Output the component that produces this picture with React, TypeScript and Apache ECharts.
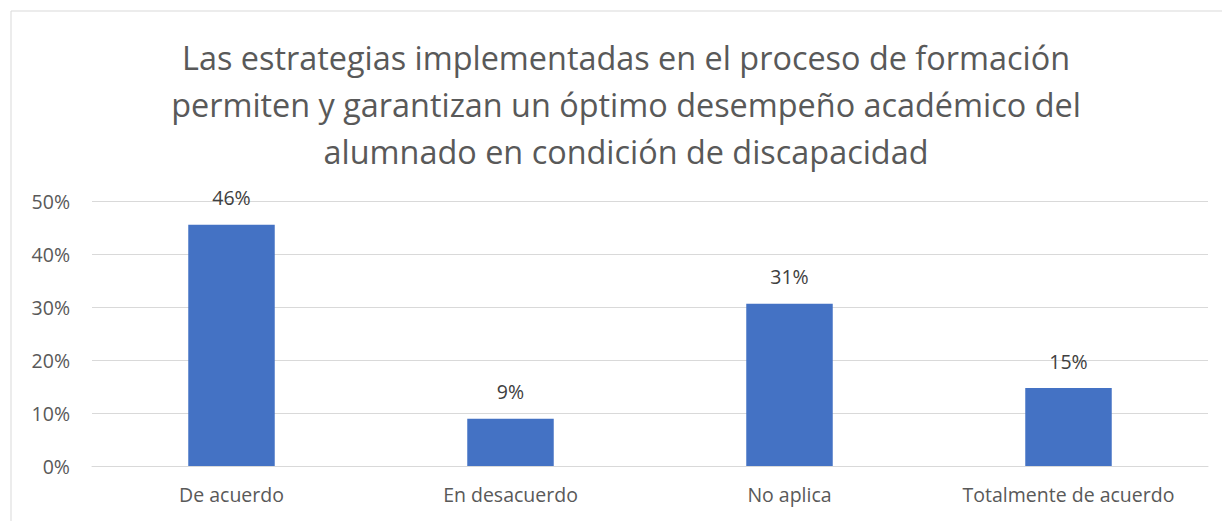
import React, { useEffect, useRef } from "react";
import * as echarts from "echarts";

const categories = ["De acuerdo", "En desacuerdo", "No aplica", "Totalmente de acuerdo"];
const values = [45.5, 8.9, 30.6, 14.7];
const titleLines = [
  "Las estrategias implementadas en el proceso de formación",
  "permiten y garantizan un óptimo desempeño académico del",
  "alumnado en condición de discapacidad",
];

export default function App() {
  const ref = useRef<HTMLDivElement>(null);
  useEffect(() => {
    const chart = echarts.init(ref.current!, undefined, { renderer: "svg" });
    const font = "'Open Sans', 'Noto Sans', sans-serif";
    chart.setOption({
      animation: false,
      backgroundColor: "#ffffff",
      graphic: [
        {
          type: "rect",
          shape: { x: 11, y: 11, width: 1300, height: 600 },
          style: { fill: "none", stroke: "#d9d9d9", lineWidth: 1 },
          silent: true,
        },
      ],
      title: {
        text: titleLines.join("\n"),
        left: 621,
        textAlign: "center",
        top: 28,
        textStyle: {
          color: "#595959",
          fontFamily: font,
          fontWeight: "normal",
          fontSize: 32.4,
          lineHeight: 47,
        },
      },
      grid: { left: 92, right: 14, top: 201, bottom: 55, containLabel: false },
      xAxis: {
        type: "category",
        data: categories,
        axisLine: { show: true, lineStyle: { color: "#d9d9d9", width: 1 } },
        axisTick: { show: false },
        axisLabel: { color: "#595959", fontFamily: font, fontSize: 19.5, margin: 18 },
      },
      yAxis: {
        type: "value",
        min: 0,
        max: 50,
        interval: 10,
        axisLine: { show: false },
        axisTick: { show: false },
        splitLine: { lineStyle: { color: "#d9d9d9", width: 1 } },
        axisLabel: {
          color: "#595959",
          fontFamily: font,
          fontSize: 19.5,
          margin: 22,
          formatter: (v: number) => v + "%",
        },
      },
      series: [
        {
          type: "bar",
          data: values,
          barWidth: "31%",
          itemStyle: { color: "#4472c4" },
          label: {
            show: true,
            position: "top",
            distance: 17,
            color: "#404040",
            fontFamily: font,
            fontSize: 19.5,
            formatter: (p: any) => Math.round(p.value) + "%",
          },
        },
      ],
    });
    return () => chart.dispose();
  }, []);
  return (
    <div
      ref={ref}
      style={{ position: "fixed", left: 0, top: 0, width: 1222, height: 521 }}
    />
  );
}
